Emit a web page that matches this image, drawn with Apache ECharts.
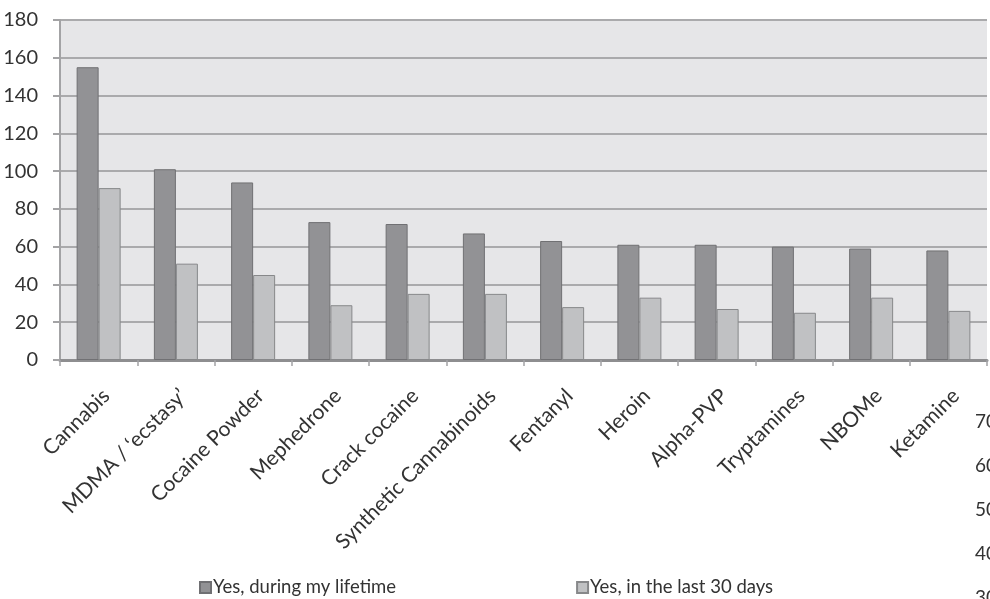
<!DOCTYPE html>
<html>
<head>
<meta charset="utf-8">
<script src="https://cdn.jsdelivr.net/npm/echarts@6/dist/echarts.min.js"></script>
<style>
  html, body { margin: 0; padding: 0; background: #ffffff; }
  #chart { width: 990px; height: 599px; }
</style>
</head>
<body>
<div id="chart"></div>
<script>
// Substances reported, with counts of respondents
const categories = [
  'Cannabis', 'MDMA / \u2018ecstasy\u2019', 'Cocaine Powder', 'Mephedrone', 'Crack cocaine',
  'Synthetic Cannabinoids', 'Fentanyl', 'Heroin', 'Alpha-PVP', 'Tryptamines', 'NBOMe', 'Ketamine'
];
const lifetime = [155, 101, 94, 73, 72, 67, 63, 61, 61, 60, 59, 58];
const last30Days = [91, 51, 45, 29, 35, 35, 28, 33, 27, 25, 33, 26];
const seriesNames = ['Yes, during my lifetime', 'Yes, in the last 30 days'];
const yTicks = { min: 0, max: 180, step: 20 };
// Axis labels of the neighbouring panel that run off the right edge
const sideTicks = ['70', '60', '50', '40', '30'];

const FONT = 'Lato, "Open Sans", sans-serif';
const chart = echarts.init(document.getElementById('chart'), null, { renderer: 'canvas' });

const sideTickTexts = sideTicks.map((t, i) => ({
  type: 'text',
  left: 975,
  top: 412 + i * 44,
  style: { text: t, font: '19px ' + FONT, fill: '#333333' }
}));

chart.setOption({
  animation: false,
  backgroundColor: '#ffffff',
  textStyle: { fontFamily: FONT },
  grid: {
    left: 60, right: 3, top: 20, bottom: 239,
    show: true, backgroundColor: '#e6e6e8', borderWidth: 0
  },
  legend: {
    left: 199, top: 578, padding: 0,
    itemWidth: 11, itemHeight: 11, itemGap: 180,
    icon: 'rect',
    textStyle: { fontSize: 18.5, color: '#333333', fontFamily: FONT, padding: [0, 0, 0, -3] },
    data: seriesNames
  },
  xAxis: {
    type: 'category',
    data: categories,
    axisLine: { lineStyle: { color: '#8e8e90', width: 3 } },
    axisTick: { show: true, length: 6, lineStyle: { color: '#a3a3a5', width: 1.5 } },
    axisLabel: {
      interval: 0, rotate: 45, margin: 25,
      verticalAlign: 'top', align: 'right',
      fontSize: 21, color: '#333333', fontFamily: FONT
    },
    splitLine: { show: false }
  },
  yAxis: {
    type: 'value',
    min: yTicks.min, max: yTicks.max, interval: yTicks.step,
    axisLine: { show: true, lineStyle: { color: '#a3a3a5', width: 2 } },
    axisTick: { show: true, length: 7, lineStyle: { color: '#a3a3a5', width: 2 } },
    axisLabel: { margin: 22, fontSize: 20, color: '#333333', fontFamily: FONT },
    splitLine: { show: true, lineStyle: { color: '#aaaaac', width: 2 } }
  },
  series: [
    {
      name: seriesNames[0], type: 'bar', data: lifetime,
      barWidth: 22, barGap: '0%',
      itemStyle: { color: '#929295', borderColor: '#707073', borderWidth: 1 }
    },
    {
      name: seriesNames[1], type: 'bar', data: last30Days,
      barWidth: 22, barGap: '0%',
      itemStyle: { color: '#c0c1c3', borderColor: '#87888a', borderWidth: 1 }
    }
  ],
  graphic: sideTickTexts
});
</script>
</body>
</html>
